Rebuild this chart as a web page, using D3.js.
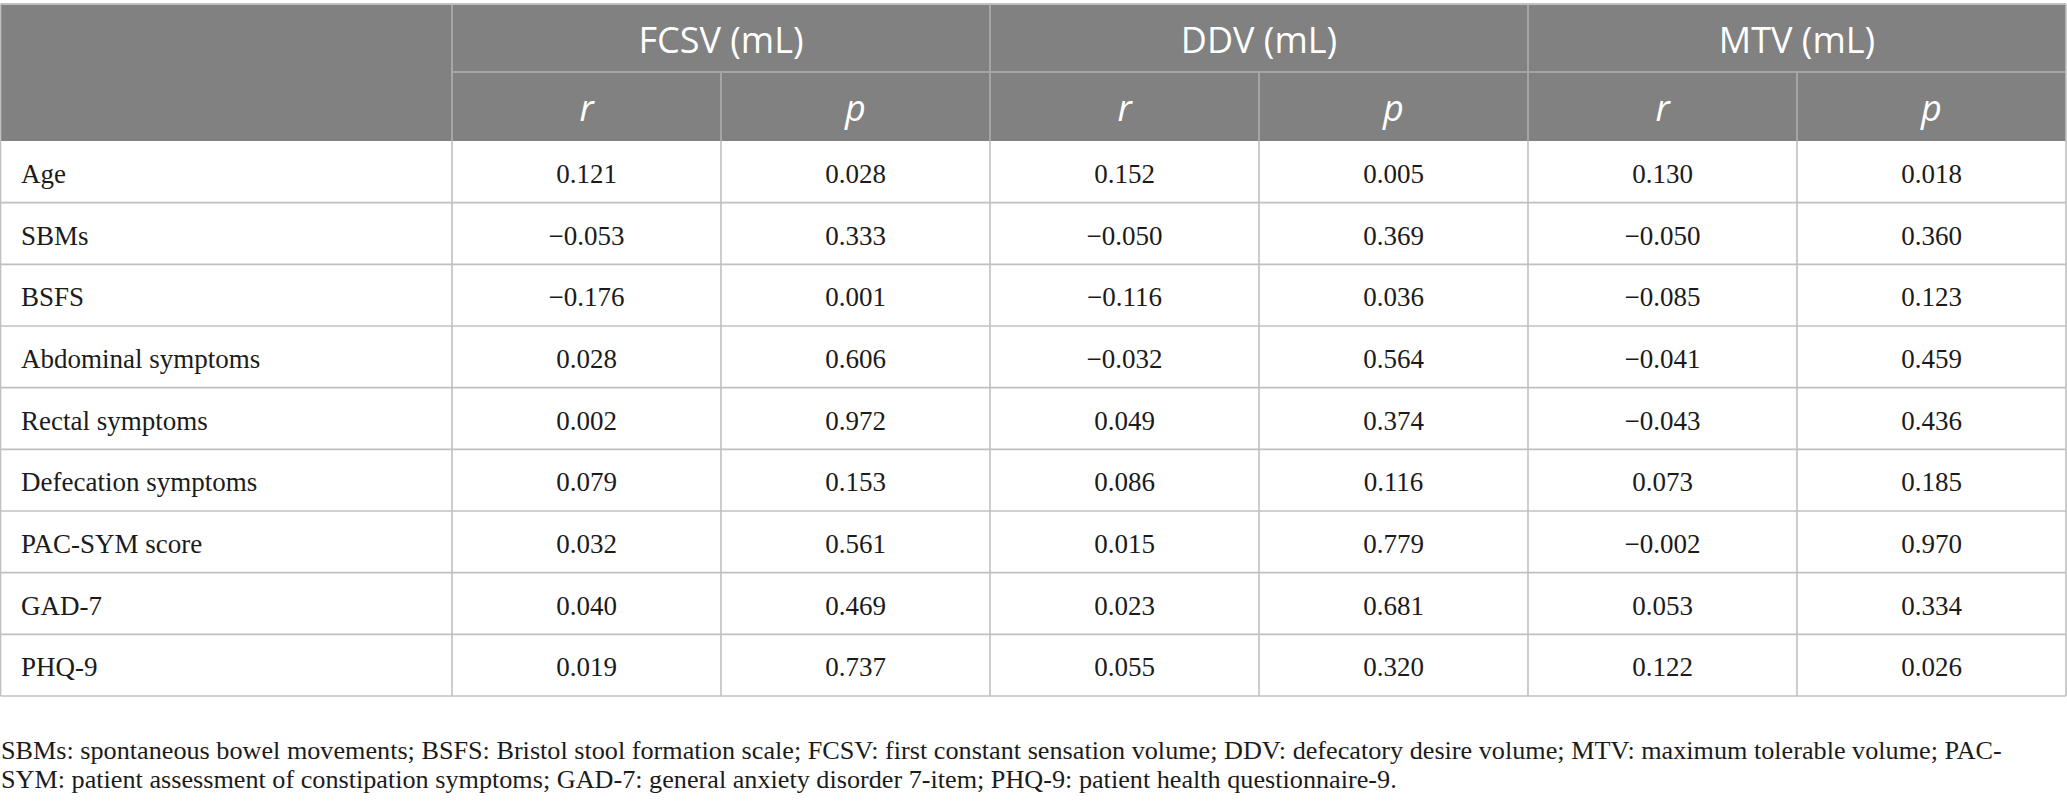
<!DOCTYPE html>
<html>
<head>
<meta charset="utf-8">
<script src="https://cdn.jsdelivr.net/npm/d3@7"></script>
<style>
    html, body { margin: 0; padding: 0; background: #fff; }
    svg { display: block; }
</style>
</head>
<body>
<svg id="tbl"></svg>
<script>
(function () {
    'use strict';

    // --- Data ----------------------------------------------------------

    var variables = [
        'Age', 'SBMs', 'BSFS', 'Abdominal symptoms', 'Rectal symptoms',
        'Defecation symptoms', 'PAC-SYM score', 'GAD-7', 'PHQ-9'
    ];

    var groups = ['FCSV (mL)', 'DDV (mL)', 'MTV (mL)'];
    var stats = ['r', 'p'];

    var fcsvR = [0.121, -0.053, -0.176, 0.028, 0.002, 0.079, 0.032, 0.040, 0.019];
    var fcsvP = [0.028, 0.333, 0.001, 0.606, 0.972, 0.153, 0.561, 0.469, 0.737];
    var ddvR  = [0.152, -0.050, -0.116, -0.032, 0.049, 0.086, 0.015, 0.023, 0.055];
    var ddvP  = [0.005, 0.369, 0.036, 0.564, 0.374, 0.116, 0.779, 0.681, 0.320];
    var mtvR  = [0.130, -0.050, -0.085, -0.041, -0.043, 0.073, -0.002, 0.053, 0.122];
    var mtvP  = [0.018, 0.360, 0.123, 0.459, 0.436, 0.185, 0.970, 0.334, 0.026];

    var footnote = [
        'SBMs: spontaneous bowel movements; BSFS: Bristol stool formation scale; FCSV: first constant sensation volume; DDV: defecatory desire volume; MTV: maximum tolerable volume; PAC-',
        'SYM: patient assessment of constipation symptoms; GAD-7: general anxiety disorder 7-item; PHQ-9: patient health questionnaire-9.'
    ];

    // --- Layout --------------------------------------------------------

    var W = 2067, H = 812,
        top = 4, head1 = 72, head2 = 141, bottom = 696,
        left = 0.5, labelW = 452, right = 2066,
        headBg = '#808180', headLine = '#a4a5a4', bodyLine = '#c0c0c0',
        ink = '#1b1b1b',
        serif = 'Liberation Serif',
        sans = 'Open Sans';

    var columns = [];
    groups.forEach(function (g) {
        stats.forEach(function (s) { columns.push(g + '|' + s); });
    });
    var colValues = [fcsvR, fcsvP, ddvR, ddvP, mtvR, mtvP];

    var svg = d3.select('#tbl').attr('width', W).attr('height', H),
        fmt = d3.format('.3f');

    var x = d3.scaleBand().domain(columns).range([labelW, right]),
        xg = d3.scaleBand().domain(groups).range([labelW, right]),
        y = d3.scaleBand().domain(variables).range([head2, bottom]);

    // --- Header --------------------------------------------------------

    function drawHeader() {
        var g = svg.append('g').attr('class', 'head');

        g.append('rect')
            .attr('x', left).attr('y', top)
            .attr('width', right - left).attr('height', head2 - top)
            .attr('fill', headBg);

        g.selectAll('text.grp').data(groups).enter().append('text')
            .attr('class', 'grp')
            .attr('x', function (d) { return xg(d) + xg.bandwidth() / 2; })
            .attr('y', 53)
            .attr('text-anchor', 'middle')
            .attr('fill', '#fff')
            .attr('font-family', sans)
            .attr('font-size', 36)
            .text(function (d) { return d; });

        g.selectAll('text.st').data(columns).enter().append('text')
            .attr('class', 'st')
            .attr('x', function (d) { return x(d) + x.bandwidth() / 2; })
            .attr('y', 121)
            .attr('text-anchor', 'middle')
            .attr('fill', '#fff')
            .attr('font-family', sans)
            .attr('font-style', 'italic')
            .attr('font-size', 36)
            .text(function (d) { return d.split('|')[1]; });

        // rule under group titles, only across the value columns
        g.append('line')
            .attr('x1', labelW).attr('x2', right)
            .attr('y1', head1).attr('y2', head1)
            .attr('stroke', headLine).attr('stroke-width', 2);

        // group dividers run full header height, r|p dividers only row two
        g.selectAll('line.gv').data(groups).enter().append('line')
            .attr('class', 'gv')
            .attr('x1', function (d) { return xg(d); })
            .attr('x2', function (d) { return xg(d); })
            .attr('y1', top).attr('y2', head2)
            .attr('stroke', headLine).attr('stroke-width', 2);

        g.selectAll('line.sv').data(columns.filter(function (d, i) { return i % 2; }))
            .enter().append('line')
            .attr('class', 'sv')
            .attr('x1', function (d) { return x(d); })
            .attr('x2', function (d) { return x(d); })
            .attr('y1', head1).attr('y2', head2)
            .attr('stroke', headLine).attr('stroke-width', 2);
    }

    // --- Body ----------------------------------------------------------

    function drawBody() {
        var g = svg.append('g').attr('class', 'body'),
            rows, vx;

        rows = g.selectAll('g.row').data(variables).enter().append('g')
            .attr('class', 'row')
            .attr('transform', function (d) {
                return 'translate(0,' + y(d) + ')';
            });

        rows.append('text')
            .attr('x', 21)
            .attr('y', 42)
            .attr('fill', ink)
            .attr('font-family', serif)
            .attr('font-size', 27)
            .text(function (d) { return d; });

        rows.selectAll('text.v')
            .data(function (d, i) {
                return columns.map(function (c, j) {
                    return { col: c, val: colValues[j][i] };
                });
            })
            .enter().append('text')
            .attr('class', 'v')
            .attr('x', function (d) { return x(d.col) + x.bandwidth() / 2; })
            .attr('y', 42)
            .attr('text-anchor', 'middle')
            .attr('fill', ink)
            .attr('font-family', serif)
            .attr('font-size', 27)
            .text(function (d) { return fmt(d.val); });

        // horizontal rules below each row
        g.selectAll('line.h').data(variables).enter().append('line')
            .attr('class', 'h')
            .attr('x1', left).attr('x2', right)
            .attr('y1', function (d) { return y(d) + y.bandwidth(); })
            .attr('y2', function (d) { return y(d) + y.bandwidth(); })
            .attr('stroke', bodyLine).attr('stroke-width', 1.6);

        // vertical rules: label column edge plus each value column edge
        vx = [left, labelW].concat(columns.map(function (c) {
            return x(c) + x.bandwidth();
        }));
        g.selectAll('line.v').data(vx).enter().append('line')
            .attr('class', 'v')
            .attr('x1', function (d) { return d; })
            .attr('x2', function (d) { return d; })
            .attr('y1', head2).attr('y2', bottom)
            .attr('stroke', bodyLine).attr('stroke-width', 1.6);

        // outer frame around the header
        svg.append('line')
            .attr('x1', left).attr('x2', right)
            .attr('y1', top).attr('y2', top)
            .attr('stroke', bodyLine).attr('stroke-width', 2);
        [left, right].forEach(function (xx) {
            svg.append('line')
                .attr('x1', xx).attr('x2', xx)
                .attr('y1', top).attr('y2', head2)
                .attr('stroke', bodyLine).attr('stroke-width', 1.6);
        });
    }

    // --- Footnote ------------------------------------------------------

    function drawFootnote() {
        var g = svg.append('g').attr('class', 'foot');

        g.selectAll('text').data(footnote).enter().append('text')
            .attr('x', 1)
            .attr('y', function (d, i) { return 759 + i * 29; })
            .attr('fill', ink)
            .attr('font-family', serif)
            .attr('font-size', 26.2)
            .text(function (d) { return d; });
    }

    drawHeader();
    drawBody();
    drawFootnote();
}());
</script>
</body>
</html>
